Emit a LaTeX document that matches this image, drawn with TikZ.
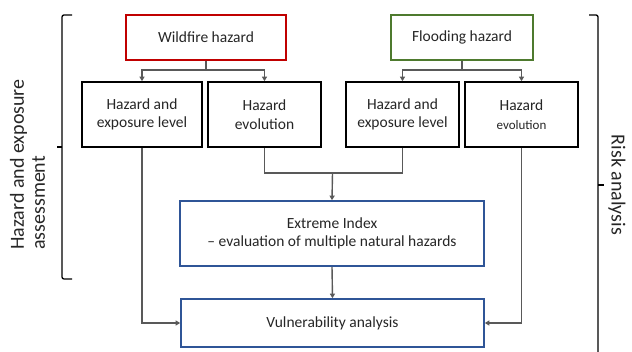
\documentclass[tikz,border=0pt]{standalone}
\usepackage{fontspec}
\setmainfont{Carlito}
\usetikzlibrary{arrows.meta,calc,positioning}

\definecolor{firered}{HTML}{C00000}
\definecolor{floodgreen}{HTML}{4E7A2E}
\definecolor{indexblue}{HTML}{2F5597}

\begin{document}
\begin{tikzpicture}[
x=1pt, y=-1pt,
font=\fontsize{15.5}{18.5}\selectfont,
box/.style={draw=#1, fill=white, line width=1.6pt, align=center, inner sep=3pt, text=black!85},
box/.default=black,
arrow/.style={-{Triangle[length=4.5pt,width=5pt]}, line width=1.4pt, draw=black!65},
link/.style={line width=1.4pt, draw=black!65},
brace/.style={line width=1.3pt, draw=black, rounded corners=2pt},
side/.style={font=\fontsize{20}{21}\selectfont, text=black!85, align=left, inner sep=0pt}
]
\useasboundingbox (0,0) rectangle (632,352);

\node[box=firered, minimum width=160pt, minimum height=45pt] (wild) at (206,37.5) {Wildfire hazard};
\node[box=floodgreen, minimum width=142pt, minimum height=45pt] (flood) at (462,37.5) {Flooding hazard};

\node[box, minimum width=120pt, minimum height=65pt] (wlevel) at (142,114.5) {Hazard and\\exposure level};
\node[box, minimum width=113pt, minimum height=65pt] (wevol) at (264.5,114.5) {Hazard\\evolution};
\node[box, minimum width=113pt, minimum height=65pt] (flevel) at (402.5,114.5) {Hazard and\\exposure level};
\node[box, minimum width=113pt, minimum height=65pt] (fevol) at (521.5,114.5) {Hazard\\{\fontsize{13}{15}\selectfont evolution}};

\node[box=indexblue, minimum width=304pt, minimum height=65pt] (index) at (332,233.5) {Extreme Index\\-- evaluation of multiple natural hazards};
\node[box=indexblue, minimum width=303pt, minimum height=48pt] (vuln) at (332.5,323) {Vulnerability analysis};

\coordinate (wsplit) at (206,70);
\coordinate (fsplit) at (462,70);
\coordinate (merge) at (332.5,173);

\draw[link] (wild.south) -- (wsplit);
\draw[arrow] (wsplit) -| (wlevel.north);
\draw[arrow] (wsplit) -| (wevol.north);
\draw[link] (flood.south) -- (fsplit);
\draw[arrow] (fsplit) -| (flevel.north);
\draw[arrow] (fsplit) -| (fevol.north);

\draw[link] (wevol.south) |- (merge);
\draw[link] (flevel.south) |- (merge);
\draw[arrow] (merge) -- (index.north);
\draw[arrow] (index.south) -- (vuln.north);
\draw[arrow] (wlevel.south) |- (vuln.west);
\draw[arrow] (fevol.south) |- (vuln.east);

% side braces
\draw[brace] (72,15) -- (62,15) -- (62,279) -- (72,279);
\draw[line width=1.3pt] (62,147) -- (57,147);
\draw[brace] (589,15) -- (598,15) -- (598,356);
\draw[line width=1.3pt] (598,185) -- (604,185);

\node[side, rotate=90, anchor=west] (hazlabel) at (27.5,250) {Hazard and exposure\\assessment};
\node[side, rotate=-90, anchor=center] (risklabel) at (617,185) {Risk analysis};
\end{tikzpicture}
\end{document}
